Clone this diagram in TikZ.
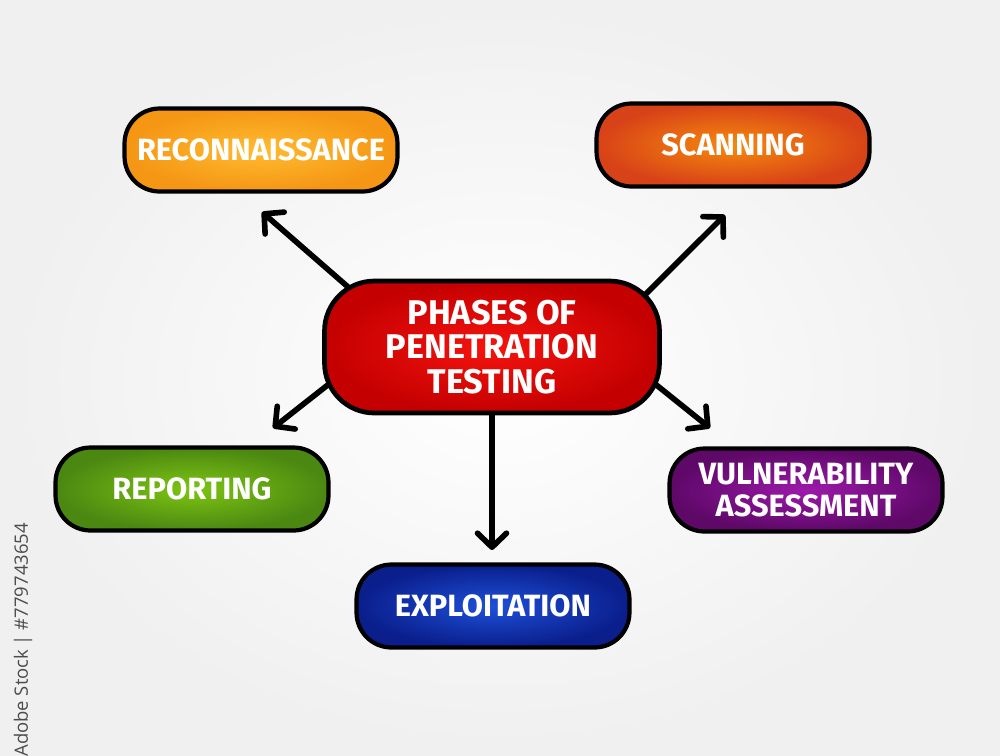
\documentclass[tikz,border=0pt]{standalone}
\usepackage{fontspec}
\setmainfont{Fira Sans}
\newfontfamily\wmfont{Open Sans}
\usetikzlibrary{arrows.meta}
\usetikzlibrary{backgrounds,calc}

\tikzset{
	phase/.style={draw=black,line width=2.4pt,rounded corners=0.7cm,minimum width=5.46cm,minimum height=1.66cm,
		text=white,align=center,font=\bfseries\fontsize{17.5}{18}\selectfont},
	arr/.style={line width=3.2pt,line cap=round,->}
}

\begin{document}
\begin{tikzpicture}[x=0.02cm,y=-0.02cm,>={Straight Barb[round,length=2.8mm,width=5.8mm]}]
			\useasboundingbox (0,0) rectangle (1000,755);

			% main topic
			\node[phase,line width=2.7pt,rounded corners=1cm,minimum width=6.7cm,minimum height=2.64cm,
				inner color={rgb,255:red,245;green,20;blue,15},outer color={rgb,255:red,196;green,0;blue,0},
				font=\bfseries\fontsize{19.5}{19.5}\selectfont] (P) at (492,347) {PHASES OF\\PENETRATION\\TESTING};

			% the five phases
			\node[phase,inner color={rgb,255:red,255;green,187;blue,48},outer color={rgb,255:red,245;green,150;blue,20}] (Rec) at (261,150) {RECONNAISSANCE};
			\node[phase,inner color={rgb,255:red,246;green,138;blue,12},outer color={rgb,255:red,216;green,66;blue,24}] (Scan) at (733,145) {SCANNING};
			\node[phase,inner color={rgb,255:red,126;green,197;blue,18},outer color={rgb,255:red,74;green,136;blue,18}] (Rep) at (192,489) {REPORTING};
			\node[phase,inner color={rgb,255:red,156;green,26;blue,170},outer color={rgb,255:red,94;green,8;blue,104}] (Vul) at (806,490) {VULNERABILITY\\ASSESSMENT};
			\node[phase,inner color={rgb,255:red,30;green,80;blue,216},outer color={rgb,255:red,10;green,30;blue,140}] (Exp) at (493,606) {EXPLOITATION};

			\coordinate (RecT) at (262,212);
			\coordinate (ScanT) at (725,215);
			\coordinate (RepT) at (273,428);
			\coordinate (VulT) at (710,428);
			\coordinate (ExpT) at (492,550);

			\node[rotate=90,anchor=east,text=black!70,font=\wmfont\fontsize{10.5}{12}\selectfont] (W) at (23,517) {Adobe Stock | \#779743654};

			\begin{scope}[on background layer]
				\shade[inner color=white,outer color=black!6] (0,0) rectangle (1000,755);
				% start a little inside the red box, under its fill
				\draw[arr] ($(RecT)!1.3!(P.156)$)--(RecT);
				\draw[arr] ($(ScanT)!1.3!(P.22)$)--(ScanT);
				\draw[arr] ($(RepT)!1.3!(P.194)$)--(RepT);
				\draw[arr] ($(VulT)!1.3!(P.346)$)--(VulT);
				\draw[arr] (P.south)--(ExpT);
			\end{scope}
		\end{tikzpicture}
\end{document}
